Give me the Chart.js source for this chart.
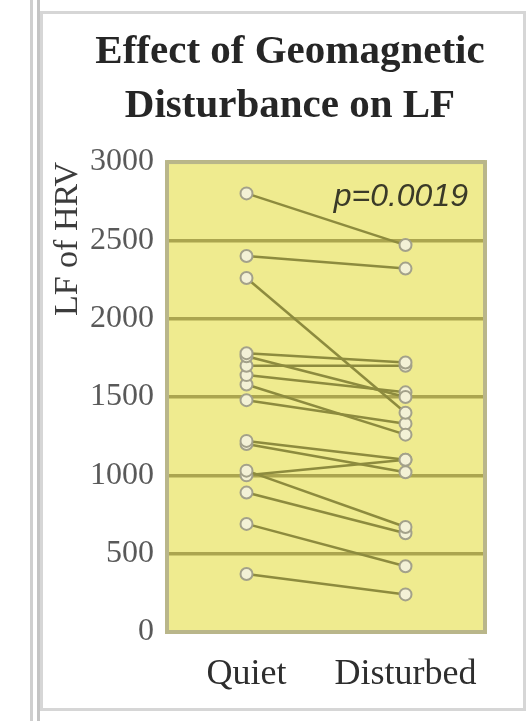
<!DOCTYPE html>
<html>
<head>
<meta charset="utf-8">
<script src="https://cdn.jsdelivr.net/npm/chart.js@4"></script>
<style>
    html, body { margin: 0; padding: 0; background: #ffffff; }
    #wrap { position: relative; width: 529px; height: 721px; overflow: hidden; }
    .bar { position: absolute; left: 30px; top: 0; width: 4px; height: 721px;
           border-left: 3px solid #cfcfcf; border-right: 3px solid #c4c4c4; }
    .frame { position: absolute; left: 40px; top: 11px; width: 480px; height: 694px;
             border: 3px solid #d6d6d6; }
    canvas { position: absolute; left: 0; top: 0; }
</style>
</head>
<body>
<div id="wrap">
    <div class="bar"></div>
    <div class="frame"></div>
    <canvas id="lfChart" width="529" height="721"></canvas>
</div>
<script>
// Paired LF of HRV readings for each subject
const groups = ["Quiet", "Disturbed"];
const quietLF = [2800, 2400, 2260, 1780, 1760, 1700, 1640, 1580, 1480, 1220, 1200, 1030, 1000, 890, 690, 370];
const disturbedLF = [2470, 2320, 1400, 1720, 1500, 1700, 1530, 1260, 1330, 1100, 1020, 670, 1100, 630, 420, 240];
const yMin = 0;
const yMax = 3000;
const yStep = 500;
const pLabel = "p=0.0019";

const serif = "'Liberation Serif', 'Times New Roman', serif";

// one dataset per subject so every pair gets its own connecting line
const datasets = quietLF.map((q, i) => ({
    label: "Subject " + (i + 1),
    data: [q, disturbedLF[i]],
    borderColor: "#8d8b3e",
    borderWidth: 2.5,
    pointRadius: 6,
    pointBorderWidth: 2,
    pointBorderColor: "#a3a18a",
    pointBackgroundColor: "#f3f1d6",
    tension: 0
}));

// yellow plot panel, its frame and the p-value note
const panelPlugin = {
    id: "panel",
    afterLayout(chart) {
        // centre the title over the framed box rather than the whole canvas
        if (chart.titleBlock) chart.titleBlock.left = 95;
    },
    beforeDraw(chart) {
        const { ctx, chartArea: a } = chart;
        ctx.save();
        ctx.fillStyle = "#efeb8f";
        ctx.fillRect(a.left, a.top, a.right - a.left, a.bottom - a.top);
        ctx.restore();
    },
    afterDraw(chart) {
        const { ctx, chartArea: a } = chart;
        ctx.save();
        ctx.strokeStyle = "#b9b68a";
        ctx.lineWidth = 4;
        ctx.strokeRect(a.left, a.top, a.right - a.left, a.bottom - a.top);
        ctx.font = "italic 32px 'Liberation Sans', Arial, sans-serif";
        ctx.fillStyle = "#3a3a28";
        ctx.textAlign = "right";
        ctx.textBaseline = "middle";
        ctx.fillText(pLabel, a.right - 17, a.top + 35);
        ctx.restore();
    }
};

new Chart(document.getElementById("lfChart").getContext("2d"), {
    type: "line",
    data: {
        labels: groups,
        datasets: datasets
    },
    options: {
        responsive: false,
        animation: false,
        layout: { padding: { left: 0, right: 44, top: 0, bottom: 0 } },
        plugins: {
            legend: { display: false },
            tooltip: { enabled: false },
            title: {
                display: true,
                text: ["Effect of Geomagnetic", "Disturbance on LF"],
                color: "#262626",
                font: { family: serif, size: 41, weight: "bold", lineHeight: 1.33 },
                padding: { top: 25, bottom: 28 }
            }
        },
        scales: {
            x: {
                offset: true,
                grid: { display: false },
                border: { display: false },
                ticks: {
                    color: "#2e2e2e",
                    padding: 13,
                    font: { family: serif, size: 36 }
                },
                afterFit(scale) { scale.height = 89; }
            },
            y: {
                min: yMin,
                max: yMax,
                border: { display: false },
                grid: { color: "#aba54f", lineWidth: 3.5, drawTicks: false },
                ticks: {
                    stepSize: yStep,
                    color: "#595959",
                    padding: 13,
                    font: { family: serif, size: 32 },
                    callback: (v) => String(v)
                },
                title: {
                    display: true,
                    text: "LF of HRV",
                    align: "end",
                    color: "#3c3c3c",
                    padding: { top: 48, bottom: 0 },
                    font: { family: serif, size: 34 }
                },
                afterFit(scale) { scale.width = 167; }
            }
        }
    },
    plugins: [panelPlugin]
});
</script>
</body>
</html>
